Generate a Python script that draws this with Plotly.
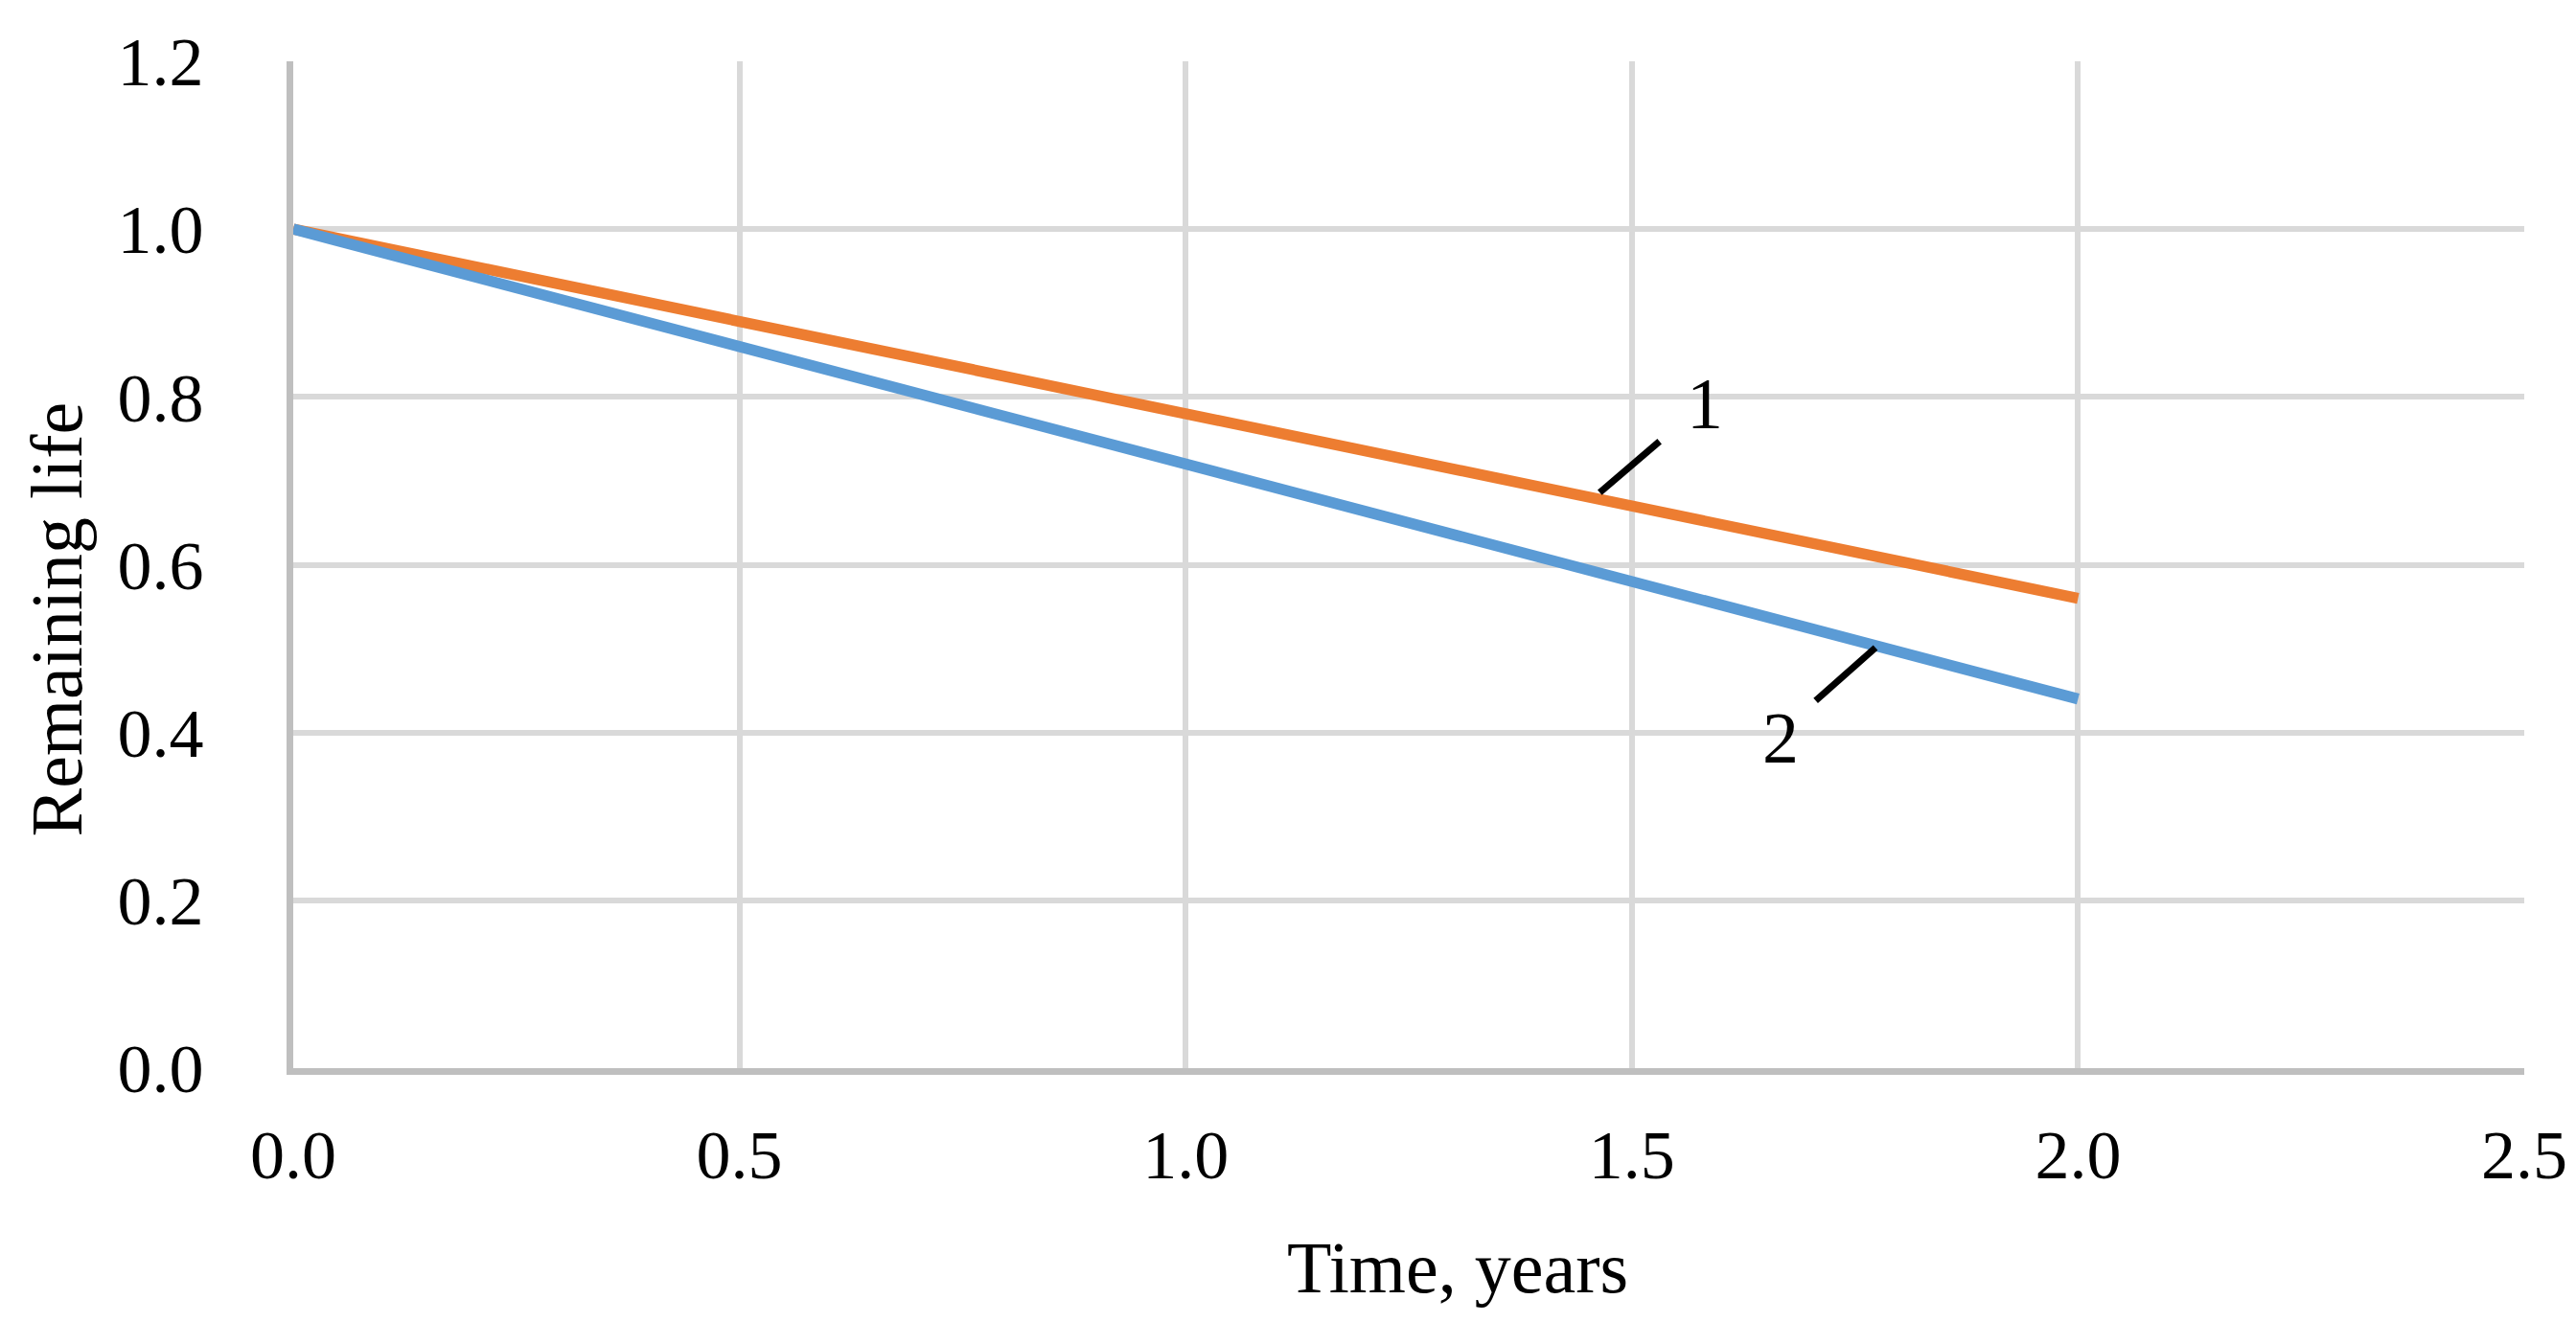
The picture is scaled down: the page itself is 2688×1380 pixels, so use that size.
import plotly.graph_objects as go

# ---- data ----
time_years = [0.0, 0.5, 1.0, 1.5, 2.0]
life_1 = [1.00, 0.89, 0.78, 0.67, 0.56]
life_2 = [1.00, 0.86, 0.72, 0.58, 0.44]

x_ticks = [0.0, 0.5, 1.0, 1.5, 2.0, 2.5]
x_tick_labels = ["0.0", "0.5", "1.0", "1.5", "2.0", "2.5"]
y_ticks = [0.0, 0.2, 0.4, 0.6, 0.8, 1.0, 1.2]
y_tick_labels = ["0.0", "0.2", "0.4", "0.6", "0.8", "1.0", "1.2"]

# curve labels with leader lines
curve_labels = ["1", "2"]
leader_x0 = [1.464, 1.773]
leader_y0 = [0.686, 0.501]
leader_x1 = [1.531, 1.706]
leader_y1 = [0.747, 0.438]
label_x = [1.582, 1.667]
label_y = [0.792, 0.394]

FONT = "Liberation Serif"
ORANGE = "#ED7D31"
BLUE = "#5B9BD5"

fig = go.Figure()
fig.add_trace(go.Scatter(x=time_years, y=life_1, mode="lines",
                         line=dict(color=ORANGE, width=11.5), name="1"))
fig.add_trace(go.Scatter(x=time_years, y=life_2, mode="lines",
                         line=dict(color=BLUE, width=11.5), name="2"))

for i, lab in enumerate(curve_labels):
    fig.add_shape(type="line", xref="x", yref="y",
                  x0=leader_x0[i], y0=leader_y0[i], x1=leader_x1[i], y1=leader_y1[i],
                  line=dict(color="black", width=7))
    fig.add_annotation(x=label_x[i], y=label_y[i], xref="x", yref="y", text=lab,
                       showarrow=False, font=dict(family=FONT, size=76, color="black"),
                       xanchor="center", yanchor="middle")

# axis titles
fig.add_annotation(x=0.522, y=-0.198, xref="paper", yref="paper", text="Time, years",
                   showarrow=False, font=dict(family=FONT, size=76, color="black"),
                   xanchor="center", yanchor="middle")
fig.add_annotation(x=-0.106, y=0.446, xref="paper", yref="paper", text="Remaining life",
                   textangle=-90, showarrow=False,
                   font=dict(family=FONT, size=76, color="black"),
                   xanchor="center", yanchor="middle")

fig.update_layout(
    width=2688, height=1380,
    margin=dict(l=298, r=62, t=56, b=273),
    paper_bgcolor="white", plot_bgcolor="white",
    showlegend=False,
    font=dict(family=FONT, size=72, color="black"),
)
fig.update_xaxes(range=[0, 2.5], tickvals=x_ticks, ticktext=x_tick_labels,
                 showgrid=True, gridcolor="#D9D9D9", gridwidth=6,
                 zeroline=False, showline=True, linecolor="#BFBFBF", linewidth=7,
                 ticks="outside", ticklen=22, tickcolor="rgba(0,0,0,0)",
                 tickfont=dict(family=FONT, size=72, color="black"))
fig.update_yaxes(range=[0, 1.2], tickvals=y_ticks, ticktext=y_tick_labels,
                 showgrid=True, gridcolor="#D9D9D9", gridwidth=6,
                 zeroline=False, showline=True, linecolor="#BFBFBF", linewidth=7,
                 ticks="outside", ticklen=72, tickcolor="rgba(0,0,0,0)",
                 tickfont=dict(family=FONT, size=72, color="black"))

fig.write_html("out.html")
